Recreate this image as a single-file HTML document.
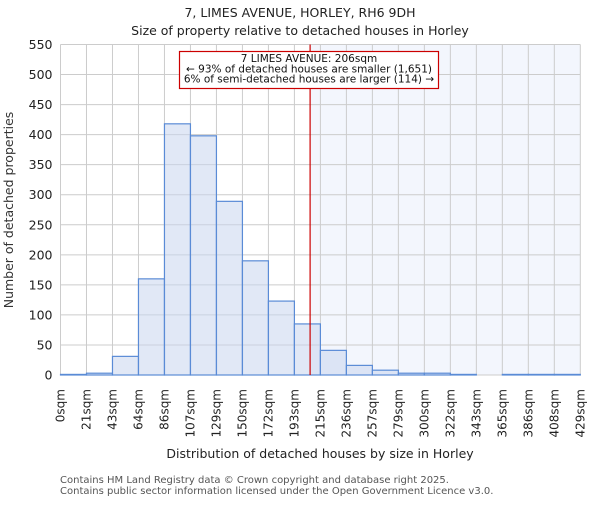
<!DOCTYPE html>
<html><head><meta charset="utf-8"><style>
body{margin:0;background:#fff;}
svg text{font-family:"DejaVu Sans","Liberation Sans",sans-serif;}
</style></head><body>
<svg id="chart" width="600" height="500" xmlns="http://www.w3.org/2000/svg">
<text x="300" y="17" text-anchor="middle" font-size="12.5" fill="#222">7, LIMES AVENUE, HORLEY, RH6 9DH</text>
<text x="300" y="35" text-anchor="middle" font-size="12.5" fill="#222">Size of property relative to detached houses in Horley</text>
<g id="plot"></g>
<text transform="translate(13,210) rotate(-90)" text-anchor="middle" font-size="12.5" fill="#333">Number of detached properties</text>
<text x="320" y="458" text-anchor="middle" font-size="12.5" fill="#222">Distribution of detached houses by size in Horley</text>
<text x="60" y="483" font-size="10" fill="#555">Contains HM Land Registry data © Crown copyright and database right 2025.</text>
<text x="60" y="494" font-size="10" fill="#555">Contains public sector information licensed under the Open Government Licence v3.0.</text>
</svg>
<script>
const tickLabels=["0sqm","21sqm","43sqm","64sqm","86sqm","107sqm","129sqm","150sqm","172sqm","193sqm","215sqm","236sqm","257sqm","279sqm","300sqm","322sqm","343sqm","365sqm","386sqm","408sqm","429sqm"];
const counts=[1,3,31,160,418,398,289,190,123,85,41,16,8,3,3,1,0,1,1,1];
const yTicks=[0,50,100,150,200,250,300,350,400,450,500,550];
const propertySize=206;
const binWidth=21.45;
const X0=60.5,X1=580.3,Y0=375,Y1=44.5,YMAX=550;
const NS="http://www.w3.org/2000/svg";
const g=document.getElementById('plot');
const bw=(X1-X0)/counts.length;
function xs(v){return X0+v/binWidth*bw;}
function xi(i){return X0+i*bw;}
function ys(v){return Y0-(v/YMAX)*(Y0-Y1);}
function mk(t,a){const e=document.createElementNS(NS,t);for(const k in a)e.setAttribute(k,a[k]);g.appendChild(e);return e;}
const px=xs(propertySize);
let e=mk('rect',{x:px,y:Y1,width:X1-px,height:Y0-Y1,fill:'#f3f6fd'});


yTicks.forEach(t=>{
 let l=mk('line',{x1:X0,x2:X1,y1:ys(t),y2:ys(t),stroke:'#cccccc','stroke-width':1});
 
 
 let tx=mk('text',{x:X0-8,y:ys(t)+4.5,'text-anchor':'end','font-size':12.5,fill:'#222'});
 tx.textContent=t;
 
 
});
tickLabels.forEach((lb,i)=>{
 let l=mk('line',{x1:xi(i),x2:xi(i),y1:Y1,y2:Y0,stroke:'#cccccc','stroke-width':1});
 
 
 let tx=mk('text',{transform:`translate(${xi(i)+4},389) rotate(-90)`,'text-anchor':'end','font-size':12,fill:'#222'});
 tx.textContent=lb;
 
 
});
counts.forEach((c,i)=>{
 let r=mk('rect',{x:xi(i),y:ys(c),width:bw,height:Y0-ys(c),fill:'rgba(200,214,238,0.55)',stroke:'#5a8bd6','stroke-width':1.2});
 
 
});
let rl=mk('line',{x1:px,x2:px,y1:Y1,y2:Y0,stroke:'#cc0000','stroke-width':1.2});


let box=mk('rect',{x:179.5,y:51.5,width:259,height:37,fill:'#fff',stroke:'#cc0000','stroke-width':1.2});


["7 LIMES AVENUE: 206sqm","← 93% of detached houses are smaller (1,651)","6% of semi-detached houses are larger (114) →"].forEach((s,k)=>{
 let t=mk('text',{x:309,y:62+k*10.3,'text-anchor':'middle','font-size':10.5,fill:'#111'});
 t.textContent=s;
 
 
});
</script>
</body></html>
